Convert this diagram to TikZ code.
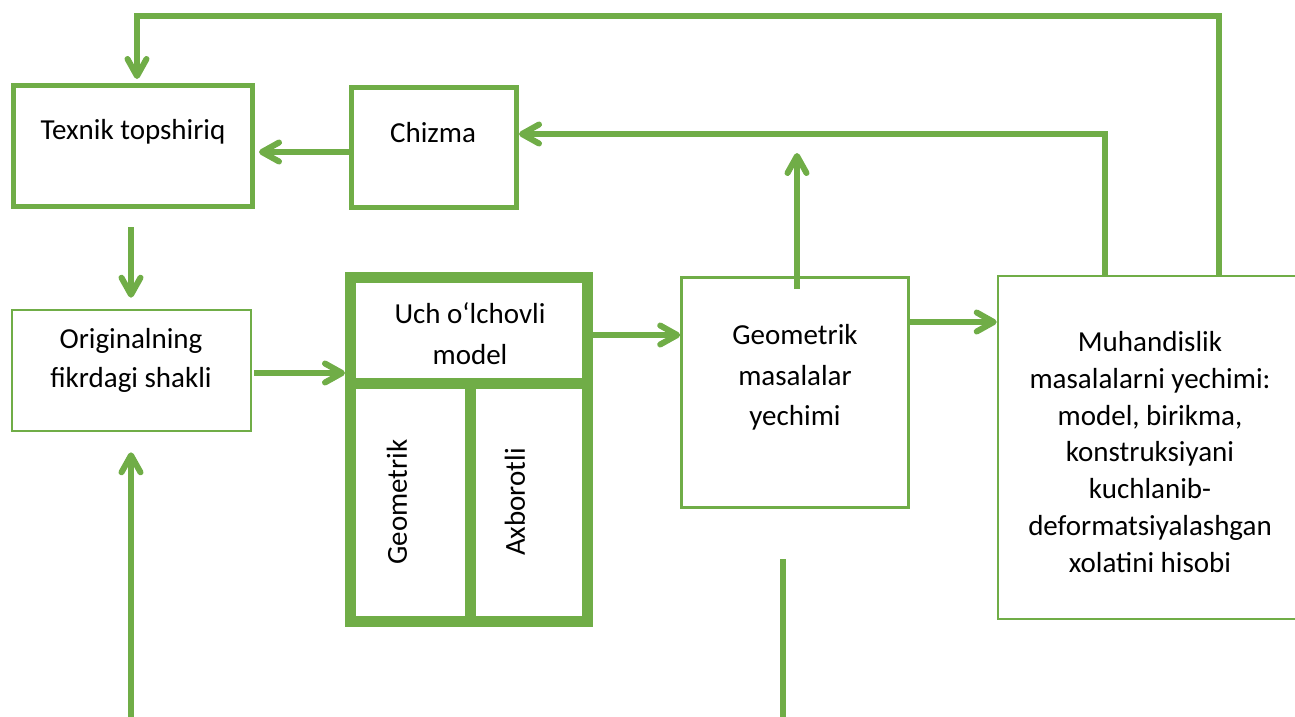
\documentclass[tikz,border=0pt]{standalone}
\usepackage{fontspec}
\setmainfont{Carlito}
\usetikzlibrary{arrows.meta}
\definecolor{grn}{HTML}{70AD47}
\begin{document}
\begin{tikzpicture}[x=1pt,y=-1pt,
  thickbox/.style={draw=grn, line width=5pt, inner sep=0pt},
  thinbox/.style={draw=grn, line width=2.6pt, inner sep=0pt},
  conn/.style={draw=grn, line width=6pt},
  arr/.style={conn, -{Straight Barb[length=17pt,width=19pt,round]}},
  txt/.style={align=center, inner sep=0pt, text=black, font=\fontsize{29}{38}\selectfont}]
\useasboundingbox (0,0) rectangle (1295,716);

% boxes
\node[thickbox, minimum width=239pt, minimum height=121pt] (tex) at (133,146) {};
\node[txt] (textex) at (133,132) {Texnik topshiriq};
\node[thickbox, minimum width=165pt, minimum height=120pt] (chz) at (434,147.5) {};
\node[txt] (txtchz) at (433,133) {Chizma};
\node[thinbox, minimum width=239pt, minimum height=121pt] (org) at (131.5,370.5) {};
\node[txt, font=\fontsize{29}{39}\selectfont] (txtorg) at (131,360.5) {Originalning\\fikrdagi shakli};

\node[draw=grn, line width=11pt, inner sep=0pt, minimum width=237pt, minimum height=344pt] (uch) at (469,449.5) {};
\draw[grn, line width=11pt] (350.5,383) -- (587.5,383);
\draw[grn, line width=11pt] (470,383) -- (470,621.5);
\node[txt, font=\fontsize{29}{41}\selectfont] (txtuch) at (470,334) {Uch o‘lchovli\\model};
\node[txt, rotate=90] (txtgeo2) at (397,502) {Geometrik};
\node[txt, rotate=90] (txtaxb) at (515,502) {Axborotli};

\node[thinbox, minimum width=227pt, minimum height=230pt] (geo) at (795,392.5) {};
\node[txt, font=\fontsize{29}{40.5}\selectfont] (txtgeo) at (795,377.5) {Geometrik\\masalalar\\yechimi};

\node[thinbox, minimum width=312pt, minimum height=343pt] (muh) at (1154,447.5) {};
\node[txt, font=\fontsize{29}{36.7}\selectfont] (txtmuh) at (1150,452) {Muhandislik\\masalalarni yechimi:\\model, birikma,\\konstruksiyani\\kuchlanib-\\deformatsiyalashgan\\xolatini hisobi};

% helper coordinates
\coordinate (tr) at (1219,16);
\coordinate (tl) at (137,16);
\coordinate (cr) at (1104.5,134);
\coordinate (y152) at (300,152);
\coordinate (x131) at (131,0);
\coordinate (b1) at (131,720);
\coordinate (y373) at (300,373);
\coordinate (y335) at (640,335);
\coordinate (gs) at (797,289);
\coordinate (gtop) at (797,153);
\coordinate (y322) at (950,322);
\coordinate (bl1) at (783,559);
\coordinate (bl2) at (783,720);

% connectors
\draw[arr, shorten >=4pt] (muh.north -| tr) -- (tr) -- (tl) -- (tex.north -| tl);
\draw[arr] (muh.north -| cr) -- (cr) -- (chz.east |- cr);
\draw[arr, shorten >=4pt] (chz.west |- y152) -- (tex.east |- y152);
\draw[arr, shorten <=18pt, shorten >=11pt] (tex.south -| x131) -- (org.north -| x131);
\draw[arr, shorten >=20pt] (b1) -- (org.south -| b1);
\draw[arr, shorten <=2pt] (org.east |- y373) -- (uch.west |- y373);
\draw[arr] (uch.east |- y335) -- (geo.west |- y335);
\draw[arr] (gs) -- (gtop);
\draw[arr] (geo.east |- y322) -- (muh.west |- y322);
\draw[conn] (bl1) -- (bl2);
\end{tikzpicture}
\end{document}
